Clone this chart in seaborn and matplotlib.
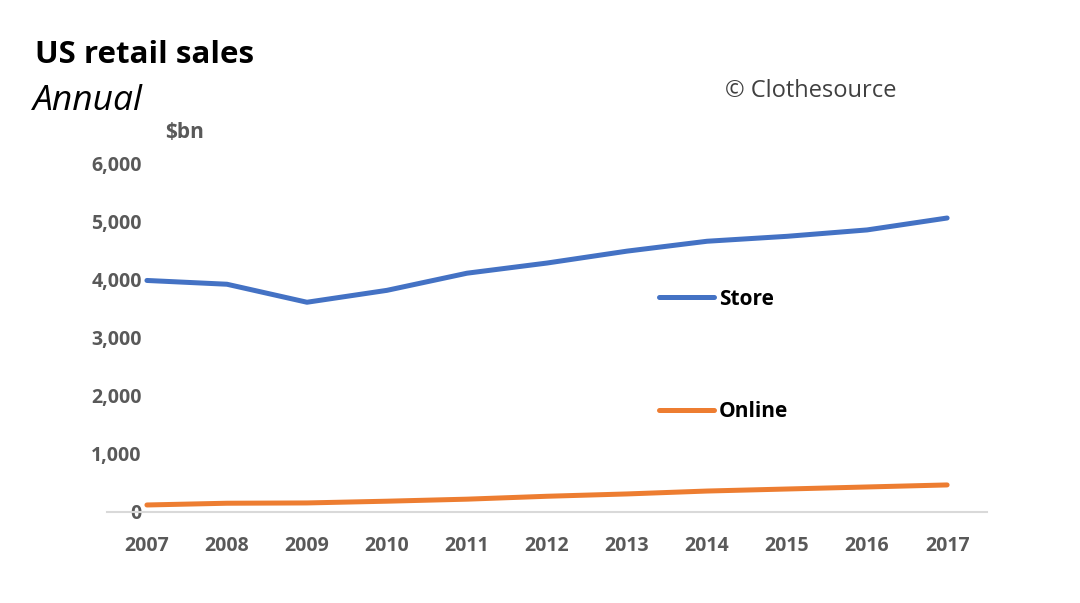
import pandas as pd
import matplotlib.pyplot as plt
import seaborn as sns

years = ['2007', '2008', '2009', '2010', '2011', '2012', '2013', '2014', '2015', '2016', '2017']
store = [3985, 3920, 3610, 3815, 4110, 4285, 4490, 4660, 4745, 4855, 5060]
online = [120, 150, 155, 185, 220, 270, 310, 360, 395, 430, 465]

df = pd.DataFrame({'year': years * 2,
                   'sales': store + online,
                   'kind': ['Store'] * len(years) + ['Online'] * len(years)})

sns.set_style('white')
plt.rcParams['font.family'] = ['Open Sans', 'DejaVu Sans']

fig = plt.figure(figsize=(10.8, 6.03), dpi=100)
ax = fig.add_axes([0.099, 0.151, 0.815, 0.578])

sns.lineplot(data=df, x='year', y='sales', hue='kind',
             palette={'Store': '#4472C4', 'Online': '#ED7D31'},
             linewidth=3.6, ax=ax, sort=False)
for l in ax.lines:
    l.set_solid_capstyle('round')

ax.set_xlim(-0.5, len(years) - 0.5)
ax.set_ylim(0, 6000)
ax.set_yticks(range(0, 6001, 1000))
ax.set_yticklabels([f'{v:,}' for v in range(0, 6001, 1000)])
ax.set_xlabel('')
ax.set_ylabel('')
for s in ['top', 'right', 'left']:
    ax.spines[s].set_visible(False)
ax.spines['bottom'].set_color('#d9d9d9')
ax.spines['bottom'].set_linewidth(1.5)
ax.tick_params(axis='both', length=0, labelsize=14, labelcolor='#595959')
ax.tick_params(axis='x', pad=17)
ax.tick_params(axis='y', pad=-25)
for t in ax.get_xticklabels() + ax.get_yticklabels():
    t.set_fontweight('bold')

leg = ax.legend(loc='upper left', bbox_to_anchor=(640 / 1080, 1 - 270 / 603),
                bbox_transform=fig.transFigure, frameon=False,
                handlelength=2.65, handletextpad=0.25, labelspacing=4.4,
                prop={'size': 15, 'weight': 'bold'})
for t in leg.get_texts():
    t.set_color('black')

fig.text(35 / 1080, 1 - 55 / 603, 'US retail sales', fontsize=22.5, fontweight='bold',
         color='black', va='center', ha='left')
fig.text(33 / 1080, 1 - 101 / 603, 'Annual', fontsize=25.5, fontstyle='italic',
         color='black', va='center', ha='left')
fig.text(165 / 1080, 1 - 132 / 603, '$bn', fontsize=15, fontweight='bold',
         color='#595959', va='center', ha='left')
fig.text(725 / 1080, 1 - 91 / 603, '© Clothesource', fontsize=17,
         color='#404040', va='center', ha='left')

fig.savefig('out.png', dpi=100)
